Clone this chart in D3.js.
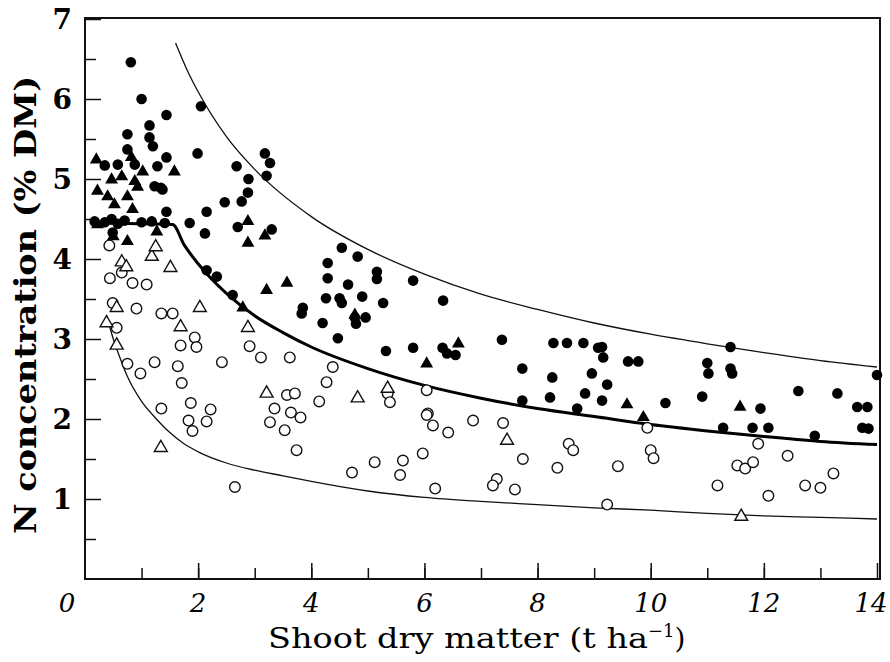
<!DOCTYPE html>
<html><head><meta charset="utf-8">
<script src="https://cdn.jsdelivr.net/npm/d3@7"></script>
<style>html,body{margin:0;padding:0;background:#fff;}svg{display:block;}</style>
</head><body>
<svg id="chart" width="890" height="662"></svg>
<script>
// ---- data ----
const xTicks = [0, 2, 4, 6, 8, 10, 12, 14];
const yTicks = [1, 2, 3, 4, 5, 6, 7];
const xTitle = "Shoot dry matter (t ha";
const yTitle = "N concentration (% DM)";

const filledCircles = [
[0.81,6.46],[1.0,6.0],[1.44,5.80],[1.14,5.67],[0.75,5.56],[1.14,5.52],[1.2,5.41],[2.05,5.91],[1.99,5.32],[1.44,5.27],
[1.28,5.16],[2.68,5.16],[3.18,5.32],[3.27,5.2],[3.21,5.04],[2.89,5.0],[1.34,4.89],[2.88,4.83],[2.77,4.72],[2.47,4.71],
[2.15,4.59],[1.44,4.59],[1.85,4.45],[3.3,4.37],[2.12,4.32],[2.7,4.4],[0.35,5.17],[0.58,5.18],[0.88,5.18],[0.75,5.37],
[1.23,4.91],[1.37,4.87],[0.17,4.47],[0.35,4.46],[0.47,4.5],[0.58,4.44],[0.7,4.48],[1.0,4.46],[1.18,4.47],[1.41,4.45],
[0.49,4.33],[2.15,3.86],[2.33,3.78],[2.61,3.55],[3.85,3.39],
[4.54,4.14],[4.82,4.03],[4.29,3.95],[4.29,3.76],[4.65,3.68],[5.16,3.84],[5.16,3.75],[5.8,3.73],[4.26,3.51],[4.5,3.51],
[4.54,3.45],[4.9,3.53],[5.27,3.45],[6.33,3.48],[3.83,3.32],[4.2,3.2],[4.77,3.27],[4.96,3.27],[4.79,3.19],[4.47,3.01],
[5.32,2.85],[5.8,2.89],[6.32,2.89],[6.4,2.82],[6.55,2.8],[7.37,2.99],[7.73,2.63],[8.26,2.52],[8.28,2.95],[8.52,2.95],
[8.81,2.95],[8.96,2.57],[8.84,2.32],[8.22,2.27],[7.73,2.23],[8.7,2.13],[9.07,2.89],
[9.14,2.9],[9.16,2.77],[9.6,2.72],[9.78,2.72],[9.23,2.43],[9.14,2.23],[10.26,2.2],[10.91,2.28],[11.41,2.9],[11.0,2.70],
[11.02,2.57],[11.41,2.63],[11.44,2.57],[12.61,2.35],[13.3,2.32],[13.65,2.15],[13.83,2.15],[14.0,2.55],[13.74,1.89],
[13.85,1.88],[11.28,1.89],[11.8,1.89],[12.08,1.89],[12.9,1.79],[11.94,2.13]
];
const filledTriangles = [
[0.2,5.24],[0.22,4.85],[0.4,4.78],[0.52,4.68],[0.88,4.97],[0.93,4.9],[0.75,4.78],[1.02,5.09],[1.58,5.09],[0.84,4.62],
[0.75,4.22],[1.27,4.34],[2.88,4.47],[2.88,4.2],[3.18,4.29],[0.47,4.99],[0.65,5.03],[0.82,5.27],[0.22,4.43],[0.5,4.28],
[3.21,3.61],[3.57,3.70],[2.79,3.39],[4.77,3.3],[6.6,2.94],[6.04,2.69],[9.58,2.18],[11.58,2.15],[9.87,2.02]
];
const openCircles = [
[0.43,4.17],[0.44,3.76],[0.65,3.83],[0.84,3.70],[1.09,3.68],[0.49,3.45],[0.91,3.38],[1.35,3.32],[1.55,3.32],[0.56,3.14],
[1.94,3.02],[1.69,2.92],[1.97,2.90],[2.91,2.91],[1.23,2.71],[0.75,2.69],[1.64,2.66],[2.42,2.71],[3.11,2.77],[3.62,2.77],
[0.98,2.57],[1.71,2.45],[1.35,2.13],[1.87,2.20],[2.22,2.12],[1.83,1.98],[2.15,1.97],[1.9,1.85],[3.35,2.13],[3.57,2.3],
[3.71,2.32],[3.64,2.08],[3.81,2.02],[3.27,1.96],[3.53,1.86],[3.74,1.61],[2.65,1.15],[4.38,2.65],[4.27,2.46],[4.14,2.22],
[5.35,2.32],[5.39,2.21],[6.04,2.36],[6.06,2.07],[4.72,1.33],[5.12,1.46],[5.62,1.48],[5.57,1.30],[5.97,1.57],[6.04,2.05],
[6.15,1.92],[6.42,1.83],[6.86,1.98],[7.39,1.95],[7.74,1.5],[6.19,1.13],[7.28,1.25],[7.21,1.17],[7.6,1.12],[8.35,1.39],
[8.55,1.69],[8.63,1.61],[9.42,1.41],[10.0,1.61],[10.05,1.51],[9.94,1.89],[11.18,1.17],[11.53,1.42],[11.67,1.38],[11.81,1.46],
[11.9,1.69],[12.42,1.54],[12.08,1.04],[12.73,1.17],[13.0,1.14],[13.23,1.32],[9.23,0.93]
];
const openTriangles = [
[0.65,3.96],[0.73,3.90],[1.18,4.03],[1.25,4.15],[1.51,3.89],[2.03,3.39],[0.56,3.39],[1.69,3.15],[2.88,3.14],[3.21,2.32],
[1.34,1.64],[0.56,2.92],[4.82,2.26],[5.35,2.38],[7.46,1.73],[11.6,0.78],[0.38,3.2]
];

// curves
const criticalCurve = [[0.12,4.45],[1.55,4.43],[1.75,4.18],[2,3.94],[2.25,3.74],[2.5,3.57],[3,3.29],[3.5,3.08],[4,2.90],[5,2.63],[6,2.42],[7,2.26],[8,2.13],[9,2.03],[10,1.93],[11,1.85],[12,1.78],[13,1.72],[14,1.68]];
const upperCurve = [[1.6,6.70],[1.8,6.37],[2,6.09],[2.5,5.53],[3,5.12],[4,4.53],[5,4.12],[6,3.81],[7,3.56],[8,3.37],[9,3.20],[10,3.06],[11,2.94],[12,2.83],[13,2.73],[14,2.65]];
const lowerCurve = [[0.38,3.30],[0.5,3.00],[0.6,2.80],[0.75,2.53],[1.0,2.22],[1.25,2.01],[1.5,1.83],[1.75,1.69],[2.0,1.59],[2.5,1.45],[3.0,1.36],[3.5,1.29],[4.0,1.22],[5.0,1.10],[6.0,1.02],[7.0,0.97],[8.0,0.93],[9.0,0.89],[10,0.86],[11,0.82],[12,0.79],[13,0.77],[14,0.75]];

// ---- drawing ----
const svg = d3.select("#chart");
const x = d3.scaleLinear().domain([0, 14]).range([85, 877]);
const y = d3.scaleLinear().domain([0, 7]).range([579, 19]);
const serif = "'DejaVu Serif', 'Liberation Serif', serif";

// frame
svg.append("rect").attr("x", x(0)).attr("y", y(7) - 1).attr("width", x(14) + 3 - x(0)).attr("height", y(0) - y(7) + 1)
  .attr("fill", "none").attr("stroke", "#111").attr("stroke-width", 2);

// ticks (inward): minor every unit / half unit, major at labels
const gx = svg.append("g").attr("transform", `translate(0,${y(0)})`);
gx.call(d3.axisBottom(x).tickValues(d3.range(1, 14)).tickSize(-11).tickFormat(""));
gx.append("g").call(d3.axisBottom(x).tickValues(xTicks.filter(d => d > 0)).tickSize(-16).tickFormat(""));
gx.selectAll(".domain").remove();
gx.selectAll("line").attr("stroke", "#111").attr("stroke-width", 1.5);

const gy = svg.append("g").attr("transform", `translate(${x(0)},0)`);
gy.call(d3.axisLeft(y).tickValues(d3.range(0.5, 7, 1)).tickSize(-11).tickFormat(""));
gy.append("g").call(d3.axisLeft(y).tickValues(yTicks).tickSize(-16).tickFormat(""));
gy.selectAll(".domain").remove();
gy.selectAll("line").attr("stroke", "#111").attr("stroke-width", 1.5);

// tick labels
svg.append("g").selectAll("text").data(yTicks).join("text")
  .attr("x", 72).attr("y", d => y(d) + 10).attr("text-anchor", "end")
  .attr("font-family", serif).attr("font-weight", "bold").attr("font-size", 28).text(d => d);
svg.append("g").selectAll("text").data(xTicks).join("text")
  .attr("x", d => d === 0 ? 67 : (d === 14 ? 871 : x(d))).attr("y", 612).attr("text-anchor", "middle")
  .attr("font-family", serif).attr("font-style", "italic").attr("font-size", 26).text(d => d);

// axis titles
const xt = svg.append("text").attr("x", 268).attr("y", 648).attr("text-anchor", "start")
  .attr("font-family", serif).attr("font-size", 28);
xt.append("tspan").attr("textLength", 380).attr("lengthAdjust", "spacingAndGlyphs").text(xTitle);
xt.append("tspan").attr("dy", -11).attr("font-size", 18).text("\u22121");
xt.append("tspan").attr("dy", 11).text(")");

svg.append("text").attr("transform", "translate(36,305) rotate(-90)").attr("text-anchor", "middle")
  .attr("font-family", serif).attr("font-weight", "bold").attr("font-size", 29)
  .attr("textLength", 458).attr("lengthAdjust", "spacingAndGlyphs").text(yTitle);

// curves
const line = d3.line().x(d => x(d[0])).y(d => y(d[1])).curve(d3.curveMonotoneX);
svg.append("path").datum(upperCurve).attr("d", line).attr("fill", "none").attr("stroke", "#111").attr("stroke-width", 1.3);
svg.append("path").datum(lowerCurve).attr("d", line).attr("fill", "none").attr("stroke", "#111").attr("stroke-width", 1.3);
svg.append("path").datum(criticalCurve).attr("d", line).attr("fill", "none").attr("stroke", "#000").attr("stroke-width", 3);

// points
const circ = d3.symbol().type(d3.symbolCircle).size(88);
const tri = d3.symbol().type(d3.symbolTriangle).size(72);
svg.append("g").selectAll("path").data(openCircles).join("path")
  .attr("d", circ).attr("transform", d => `translate(${x(d[0])},${y(d[1])})`)
  .attr("fill", "#fff").attr("stroke", "#111").attr("stroke-width", 1.4);
svg.append("g").selectAll("path").data(openTriangles).join("path")
  .attr("d", tri).attr("transform", d => `translate(${x(d[0])},${y(d[1])})`)
  .attr("fill", "#fff").attr("stroke", "#111").attr("stroke-width", 1.4);
svg.append("g").selectAll("path").data(filledCircles).join("path")
  .attr("d", circ).attr("transform", d => `translate(${x(d[0])},${y(d[1])})`)
  .attr("fill", "#000");
svg.append("g").selectAll("path").data(filledTriangles).join("path")
  .attr("d", tri).attr("transform", d => `translate(${x(d[0])},${y(d[1])})`)
  .attr("fill", "#000");
</script>
</body></html>
